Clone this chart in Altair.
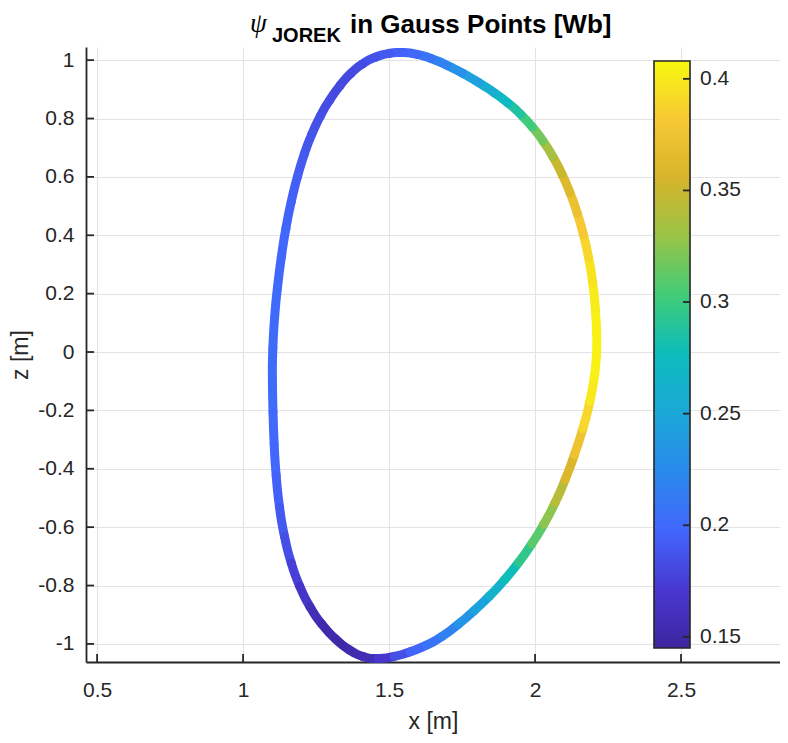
import altair as alt
import pandas as pd

# ---- data (closed boundary, counter-clockwise) ----
x_m = [2.212, 2.210, 2.203, 2.191, 2.175, 2.156, 2.133, 2.107, 2.078, 2.045, 2.010, 1.972,
       1.930, 1.884, 1.836, 1.780, 1.724, 1.668, 1.620, 1.572,
       1.524, 1.476, 1.430, 1.388, 1.350, 1.315, 1.280, 1.250, 1.222, 1.197, 1.175, 1.155,
       1.138, 1.124, 1.112, 1.104, 1.100,
       1.101, 1.104, 1.109, 1.118, 1.132, 1.152, 1.178, 1.210, 1.248, 1.292, 1.340, 1.388, 1.435,
       1.490, 1.545, 1.600, 1.655, 1.710, 1.765, 1.818, 1.870, 1.920, 1.967, 2.010, 2.050,
       2.087, 2.120, 2.150, 2.178, 2.198, 2.208]
z_m = [0.020, 0.100, 0.195, 0.285, 0.365, 0.440, 0.512, 0.578, 0.640, 0.697, 0.748, 0.793,
       0.835, 0.872, 0.905, 0.940, 0.970, 0.997, 1.014, 1.025,
       1.027, 1.019, 1.001, 0.973, 0.936, 0.891, 0.838, 0.780, 0.715, 0.640, 0.560, 0.470,
       0.375, 0.275, 0.170, 0.065, -0.040,
       -0.150, -0.260, -0.370, -0.480, -0.585, -0.680, -0.765, -0.840, -0.905, -0.960, -1.005, -1.036, -1.051,
       -1.049, -1.037, -1.017, -0.992, -0.955, -0.910, -0.862, -0.810, -0.752, -0.690, -0.625, -0.555,
       -0.478, -0.395, -0.308, -0.215, -0.120, -0.050]
psi = [0.405, 0.404, 0.401, 0.397, 0.390, 0.382, 0.372, 0.362, 0.350, 0.335, 0.318, 0.302,
       0.287, 0.272, 0.258, 0.244, 0.230, 0.218, 0.208, 0.200,
       0.195, 0.190, 0.186, 0.183, 0.181, 0.181, 0.183, 0.185, 0.188, 0.191, 0.194, 0.196,
       0.198, 0.200, 0.201, 0.202, 0.202,
       0.201, 0.200, 0.198, 0.195, 0.190, 0.184, 0.176, 0.167, 0.158, 0.152, 0.150, 0.153, 0.158,
       0.170, 0.185, 0.197, 0.207, 0.218, 0.232, 0.246, 0.262, 0.278, 0.295, 0.310, 0.326,
       0.343, 0.360, 0.375, 0.390, 0.400, 0.404]

x_ticks = [0.5, 1, 1.5, 2, 2.5]
z_ticks = [-1, -0.8, -0.6, -0.4, -0.2, 0, 0.2, 0.4, 0.6, 0.8, 1]
cbar_ticks = [0.15, 0.2, 0.25, 0.3, 0.35, 0.4]
cbar_labels = ["0.15", "0.2", "0.25", "0.3", "0.35", "0.4"]
x_domain = [0.462, 2.839]
z_domain = [-1.062, 1.045]
psi_domain = [0.145, 0.408]
parula = ["#3d26a0", "#4838d0", "#4266fc", "#2a8aec", "#1ba8d8", "#0cbcbc",
          "#40cc78", "#98c448", "#d6b42a", "#f6c834", "#f8f810"]

title_psi = ["ψ"]
title_sub = ["JOREK"]
title_main = ["in Gauss Points [Wb]"]

# ---- tables: one smooth (B-spline) piece per Gauss point, coloured by its psi ----
n = len(x_m)
rows = []
for i in range(n):
    p, q = (i - 1) % n, (i + 1) % n
    pts = [((x_m[p] + x_m[i]) / 2, (z_m[p] + z_m[i]) / 2),
           (x_m[i], z_m[i]),
           ((x_m[i] + x_m[q]) / 2, (z_m[i] + z_m[q]) / 2)]
    for k, (xx, zz) in enumerate(pts):
        rows.append({"seg": i, "k": k, "x": xx, "z": zz, "psi": psi[i]})
seg = pd.DataFrame(rows)
xt = pd.DataFrame({"x": x_ticks})
zt = pd.DataFrame({"z": z_ticks})
ct = pd.DataFrame({"v": cbar_ticks, "lab": cbar_labels})
cb = pd.DataFrame({"lo": [psi_domain[0]], "hi": [psi_domain[1]]})

W, H = 694, 615
FONT = "Liberation Sans"
INK = "#262626"
GRID = "#e3e3e3"

xscale = alt.Scale(domain=x_domain, nice=False, zero=False)
yscale = alt.Scale(domain=z_domain, nice=False, zero=False)

xaxis = alt.Axis(values=x_ticks, labelExpr="datum.value + ''", ticks=False, tickSize=0,
                 domainColor=INK, domainWidth=1.8, grid=True, gridColor=GRID, gridWidth=1,
                 labelFont=FONT, labelFontSize=21, labelColor=INK, labelPadding=17,
                 labelFlush=False,
                 titleFont=FONT, titleFontSize=23, titleFontWeight="normal", titleColor=INK,
                 titleY=59, titleBaseline="middle")
yaxis = alt.Axis(values=z_ticks, labelExpr="datum.value + ''", ticks=False, tickSize=0,
                 domainColor=INK, domainWidth=1.8, grid=True, gridColor=GRID, gridWidth=1,
                 labelFont=FONT, labelFontSize=21, labelColor=INK, labelPadding=12,
                 labelFlush=False,
                 titleFont=FONT, titleFontSize=23, titleFontWeight="normal", titleColor=INK,
                 titleX=-66, titleY=H / 2, titleBaseline="middle")

X = lambda f: alt.X(f, scale=xscale, axis=xaxis, title="x [m]")
Y = lambda f: alt.Y(f, scale=yscale, axis=yaxis, title="z [m]")

curve = alt.Chart(seg).mark_line(strokeWidth=9, strokeCap="round", strokeJoin="round",
                                 interpolate="basis").encode(
    x=X("x:Q"), y=Y("z:Q"),
    detail="seg:N", order="k:Q",
    color=alt.Color("psi:Q",
                    scale=alt.Scale(domain=psi_domain, range=parula, nice=False,
                                    zero=False, interpolate="rgb"),
                    legend=None),
)

xtick_marks = alt.Chart(xt).mark_rule(color=INK, strokeWidth=1.8).encode(
    x=X("x:Q"), y=alt.value(H), y2=alt.value(H - 8))
ztick_marks = alt.Chart(zt).mark_rule(color=INK, strokeWidth=1.8).encode(
    y=Y("z:Q"), x=alt.value(0), x2=alt.value(8))

t1 = alt.Chart(pd.DataFrame({"t": title_psi})).mark_text(
    font="Liberation Serif", fontStyle="italic", fontSize=27, align="left",
    baseline="alphabetic", color="black").encode(text="t:N", x=alt.value(164), y=alt.value(-15))
t2 = alt.Chart(pd.DataFrame({"t": title_sub})).mark_text(
    font=FONT, fontWeight="bold", fontSize=20, align="left",
    baseline="alphabetic", color="black").encode(text="t:N", x=alt.value(186), y=alt.value(-5))
t3 = alt.Chart(pd.DataFrame({"t": title_main})).mark_text(
    font=FONT, fontWeight="bold", fontSize=26, align="left",
    baseline="alphabetic", color="black").encode(text="t:N", x=alt.value(264), y=alt.value(-14))

inner = alt.layer(xtick_marks, ztick_marks, curve, t1, t2, t3)

# ---- colour bar drawn inside the axes, on its own psi scale ----
cscale = alt.Scale(domain=psi_domain, range=[601, 14], nice=False, zero=False)
n_stops = len(parula)
grad = alt.Gradient(
    gradient="linear",
    stops=[alt.GradientStop(offset=i / (n_stops - 1), color=c) for i, c in enumerate(parula)],
    x1=0, x2=0, y1=1, y2=0)

cbar_rect = alt.Chart(cb).mark_rect(fill=grad, stroke=INK, strokeWidth=1.6).encode(
    y=alt.Y("hi:Q", scale=cscale, axis=None), y2="lo:Q",
    x=alt.value(568), x2=alt.value(604))
cbar_tick_marks = alt.Chart(ct).mark_rule(color=INK, strokeWidth=1.8).encode(
    y=alt.Y("v:Q", scale=cscale, axis=None),
    x=alt.value(597), x2=alt.value(604))
cbar_text = alt.Chart(ct).mark_text(font=FONT, fontSize=21, color=INK, align="left",
                                    baseline="middle").encode(
    y=alt.Y("v:Q", scale=cscale, axis=None), x=alt.value(614), text="lab:N")

cbar = alt.layer(cbar_rect, cbar_tick_marks, cbar_text)

chart = alt.layer(inner, cbar).resolve_scale(y="independent").properties(
    width=W, height=H,
    autosize=alt.AutoSizeParams(type="none"),
    padding={"left": 78, "top": 39, "right": 0, "bottom": 72},
    background="white",
).configure_view(strokeWidth=0)

chart.save("out.html", embed_options={"renderer": "svg", "actions": False})
